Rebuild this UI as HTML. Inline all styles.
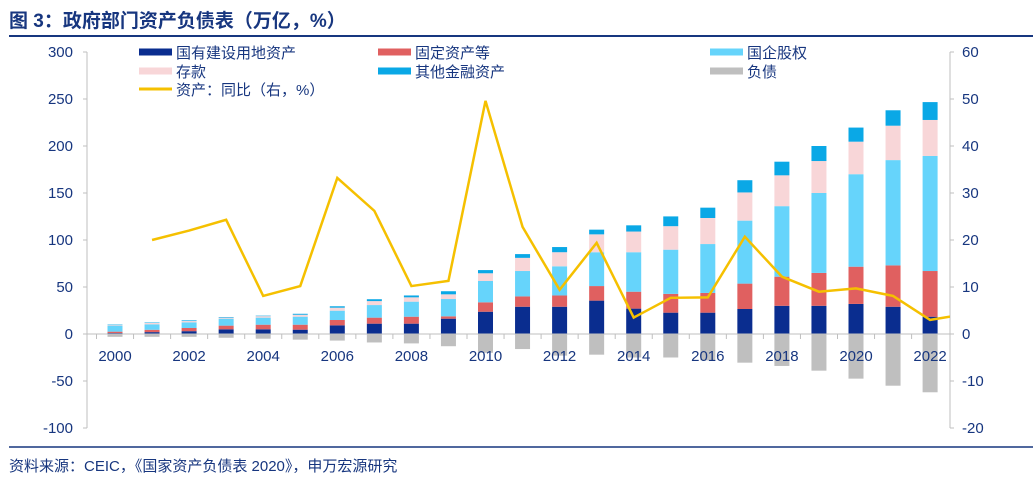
<!DOCTYPE html>
<html><head><meta charset="utf-8">
<style>
body{margin:0;background:#fff;width:1033px;height:478px;overflow:hidden;font-family:"Liberation Sans","Noto Sans CJK SC",sans-serif;}
#title{position:absolute;left:9px;top:6px;font-size:19px;font-weight:bold;color:#17367f;}
#footer{position:absolute;left:9px;top:455px;font-size:15px;color:#17367f;}
</style></head><body>
<div id="title">图 3：政府部门资产负债表（万亿，%）</div>
<svg id="chart" width="1033" height="478" style="position:absolute;left:0;top:0"></svg>
<div id="footer">资料来源：CEIC，《国家资产负债表 2020》，申万宏源研究</div>
<script>
const years=[2000,2001,2002,2003,2004,2005,2006,2007,2008,2009,2010,2011,2012,2013,2014,2015,2016,2017,2018,2019,2020,2021,2022];
const land=[1,2,3,5,5,4.6,9.2,11,11,16.3,23.7,29,29,35.5,27,22.7,22.7,26.6,30,30,32,29,18.4];
const fixed=[1.5,2.5,3.4,3.9,4.9,5.3,5.7,6.4,7.4,2.5,10,11,12,15.5,18,20,21,27,31,35,39.6,44,48.6];
const equity=[6.4,5.8,6,7.4,7.5,8.5,9.9,13.4,16,18.4,22.7,27,31,36,42,47,52,67,75,85,98.4,112,122.4];
const deposit=[0.6,1.4,1.4,1.1,1.6,2.1,3.2,4.2,4.6,5,8.2,14,15,19,22,25,27.7,30,32.8,34,34.6,36.6,38.3];
const otherFin=[0.5,0.5,0.7,0.6,0.5,1,1.5,2,2,3.3,3.4,4,5.5,5,6.6,10.4,11,13,14.5,16,15,16.4,19];
const debt=[-3,-3,-3,-4,-5,-6,-7,-9,-10,-13,-20,-16,-23,-22,-25,-25,-28,-30.5,-34,-39,-47.5,-55,-62];
const growthYears=[2001,2002,2003,2004,2005,2006,2007,2008,2009,2010,2011,2012,2013,2014,2015,2016,2017,2018,2019,2020,2021,2022,2023];
const growth=[20,22,24.3,8.1,10.2,33.2,26.2,10.2,11.3,49.6,22.8,9.4,19.4,3.5,7.7,7.8,20.7,12.2,9,9.7,8.1,3,4.3];
const leftTicks=[300,250,200,150,100,50,0,-50,-100];
const rightTicks=[60,50,40,30,20,10,0,-10,-20];
const xLabels=[2000,2002,2004,2006,2008,2010,2012,2014,2016,2018,2020,2022];

const NS='http://www.w3.org/2000/svg';
const svg=document.getElementById('chart');
function mk(tag,attrs,parent){const e=document.createElementNS(NS,tag);for(const k in attrs)e.setAttribute(k,attrs[k]);(parent||svg).appendChild(e);return e;}
const yL=v=>334-v*0.94;
const yR=v=>334-v*4.7;
const xS=yr=>115+(yr-2000)*37.05;
const axisColor='#bfbfbf', txt='#17367f';

let e;
e=mk('line',{x1:9,x2:1033,y1:36,y2:36,stroke:'#17367f','stroke-width':2});


e=mk('line',{x1:9,x2:1033,y1:447,y2:447,stroke:'#17367f','stroke-width':1.5});



e=mk('line',{x1:87,x2:87,y1:yL(300),y2:yL(-100),stroke:axisColor});


e=mk('line',{x1:950,x2:950,y1:yL(300),y2:yL(-100),stroke:axisColor});


leftTicks.forEach(t=>{
  e=mk('line',{x1:83,x2:87,y1:yL(t),y2:yL(t),stroke:axisColor});
  
  
  e=mk('text',{x:73,y:yL(t)+5,'text-anchor':'end','font-size':15,fill:txt});
  e.textContent=t;
  
  
});
rightTicks.forEach(t=>{
  e=mk('line',{x1:950,x2:954,y1:yR(t),y2:yR(t),stroke:axisColor});
  
  
  e=mk('text',{x:962,y:yR(t)+5,'font-size':15,fill:txt});
  e.textContent=t;
  
  
});

const series=[[land,'#0a2d8f','land'],[fixed,'#e06060','fixed-assets'],[equity,'#66d4fb','state-equity'],[deposit,'#f8d6d8','deposits'],[otherFin,'#0aa8e6','other-financial']];
years.forEach((yr,i)=>{
  let base=0;const x=xS(yr)-7.5;
  series.forEach(([arr,col,nm])=>{
    const v=arr[i];
    e=mk('rect',{x:x,y:yL(base+v),width:15,height:v*0.94,fill:col});
    
    
    base+=v;
  });
  e=mk('rect',{x:x,y:yL(0),width:15,height:-debt[i]*0.94,fill:'#bfbfbf'});
  
  
});
e=mk('line',{x1:87,x2:950,y1:yL(0),y2:yL(0),stroke:axisColor});


years.forEach(yr=>{
  e=mk('line',{x1:xS(yr)-18.5,x2:xS(yr)-18.5,y1:yL(0),y2:yL(0)+5,stroke:axisColor});
  
  
});
xLabels.forEach(yr=>{
  e=mk('text',{x:xS(yr),y:361,'text-anchor':'middle','font-size':15,fill:txt});
  e.textContent=yr;
  
  
});
const clip=mk('clipPath',{id:'pc'});
mk('rect',{x:87,y:40,width:863,height:400},clip);
e=mk('polyline',{points:growthYears.map((yr,i)=>xS(yr)+','+yR(growth[i])).join(' '),fill:'none',stroke:'#f5c000','stroke-width':2.5,'stroke-linejoin':'miter','clip-path':'url(#pc)'});



const legend=[[139,52,'#0a2d8f','国有建设用地资产',7],[378,52,'#e06060','固定资产等',7],[710,52,'#66d4fb','国企股权',7],[139,71,'#f8d6d8','存款',7],[378,71,'#0aa8e6','其他金融资产',7],[710,71,'#bfbfbf','负债',7],[139,89,'#f5c000','资产：同比（右，%）',3]];
legend.forEach(([x,y,c,t,h])=>{
  const g=mk('g',{});
  
  
  mk('rect',{x:x,y:y-h/2,width:33,height:h,fill:c},g);
  e=mk('text',{x:x+37,y:y+6,'font-size':15,fill:txt},g);
  e.textContent=t;
});
</script>
</body></html>
